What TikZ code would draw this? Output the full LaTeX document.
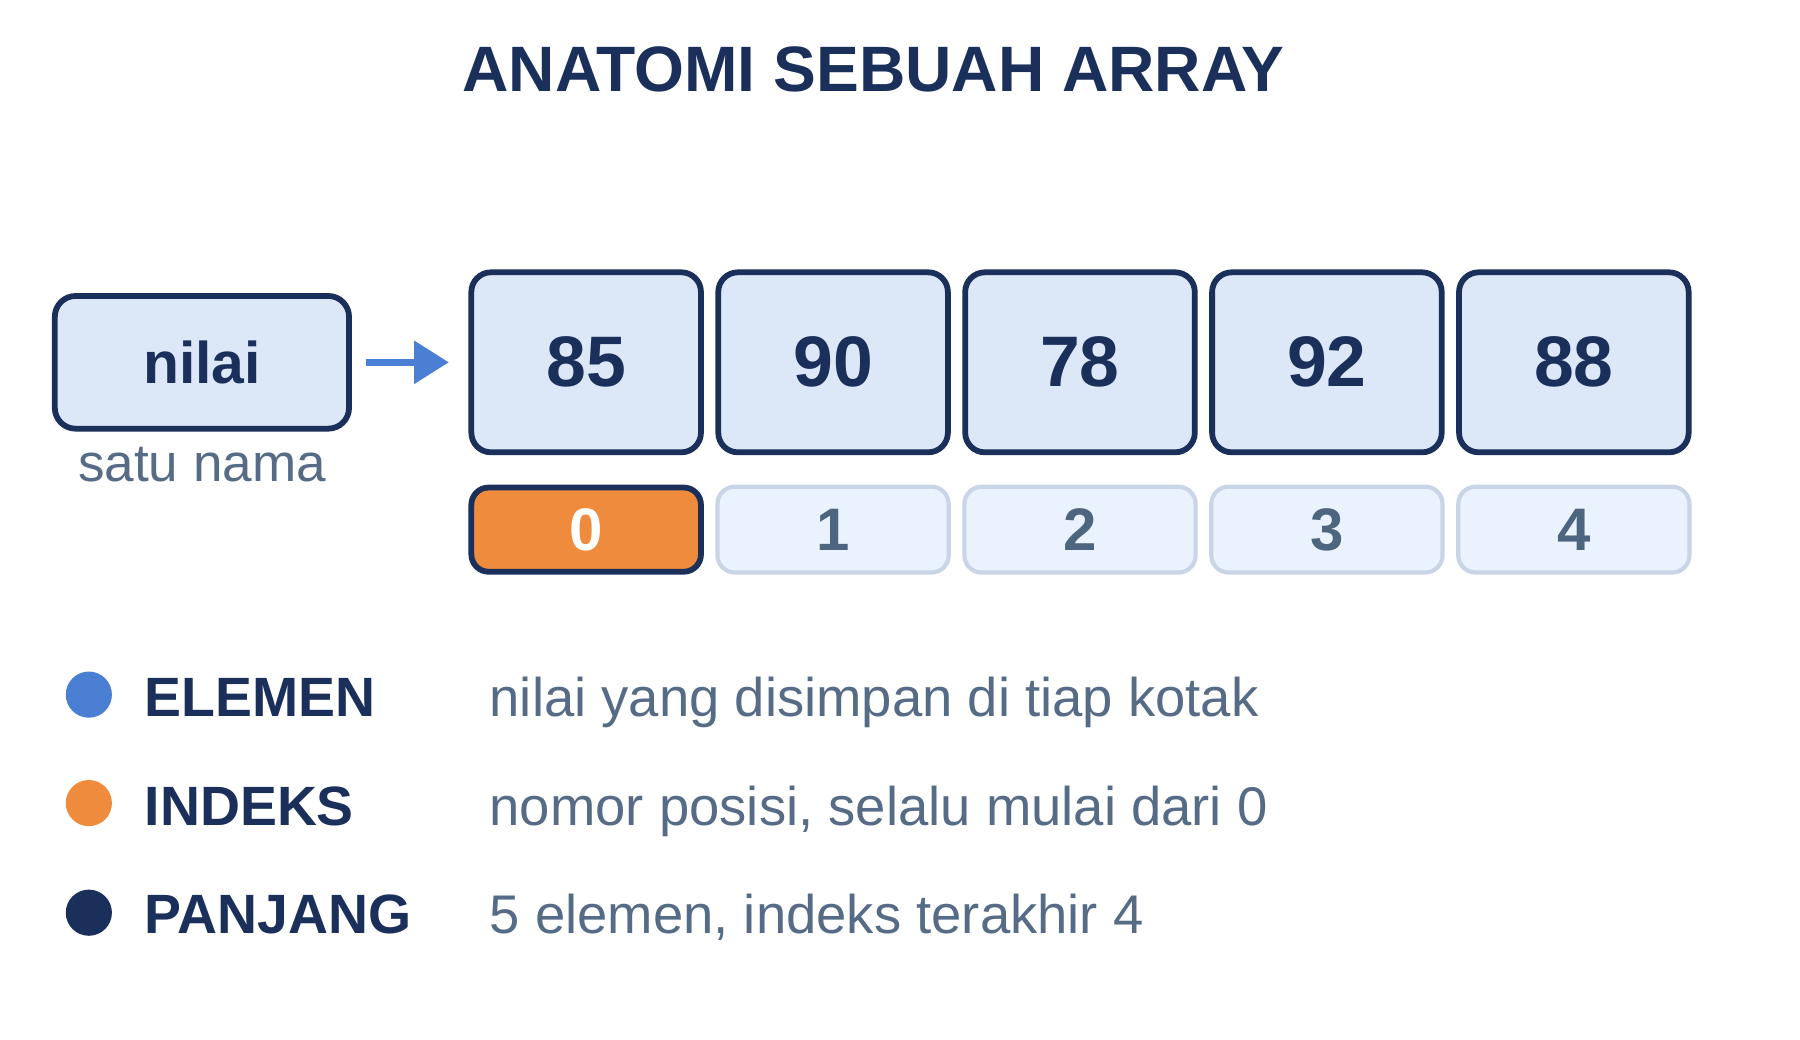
\documentclass[tikz,border=0pt]{standalone}
\usepackage{fontspec}
\setmainfont{Liberation Sans}
\usetikzlibrary{arrows.meta}
\definecolor{navy}{HTML}{1A2F5A}
\definecolor{boxfill}{HTML}{DCE8F7}
\definecolor{idxfill}{HTML}{EAF3FD}
\definecolor{idxline}{HTML}{C9D4E6}
\definecolor{idxtext}{HTML}{4E6580}
\definecolor{slate}{HTML}{566C86}
\definecolor{orangeidx}{HTML}{EE8B3D}
\definecolor{bluearr}{HTML}{4A7FD4}
\tikzset{
  valbox/.style={draw=navy, line width=2.5pt, fill=boxfill, rounded corners=8.5pt,
    minimum width=99.5pt, minimum height=78pt, inner sep=0pt, text=navy,
    font=\fontsize{31}{36}\selectfont\bfseries},
  namebox/.style={draw=navy, line width=2.5pt, fill=boxfill, rounded corners=9pt,
    minimum width=127.5pt, minimum height=57.5pt, inner sep=0pt, text=navy,
    font=\fontsize{25.5}{30}\selectfont\bfseries},
  idxbox/.style={draw=idxline, line width=1.8pt, fill=idxfill, rounded corners=7.5pt,
    minimum width=100.2pt, minimum height=37.2pt, inner sep=0pt, text=idxtext,
    font=\fontsize{26}{30}\selectfont\bfseries},
  idxzero/.style={idxbox, draw=navy, line width=2.5pt, fill=orangeidx, text=white,
    minimum width=99.5pt, minimum height=36.5pt},
  legdot/.style={circle, inner sep=0pt, minimum size=20pt},
  leglabel/.style={anchor=base west, inner sep=0pt, text=navy,
    font=\fontsize{24}{30}\selectfont\bfseries},
  legdesc/.style={anchor=base west, inner sep=0pt, text=slate,
    font=\fontsize{23.6}{30}\selectfont},
  arr/.style={draw=bluearr, line width=3pt, -{Triangle[length=15pt,width=18pt]},
    shorten <=6pt, shorten >=8.5pt}
}
\begin{document}
\begin{tikzpicture}[x=0.5pt,y=-0.5pt]
\useasboundingbox[fill=white] (0,0) rectangle (1560,901.3);
% title
\node[anchor=base, inner sep=0pt, text=navy, font=\fontsize{27.8}{34}\selectfont\bfseries]
  (title) at (757,79) {ANATOMI SEBUAH ARRAY};
% name box
\node[namebox] (nilai) at (175,314) {nilai};
\node[anchor=base, inner sep=0pt, text=slate, font=\fontsize{23}{28}\selectfont]
  (satu) at (175,417) {satu nama};
% value boxes
\node[valbox] (v0) at (508,314) {85};
\node[valbox] (v1) at (722,314) {90};
\node[valbox] (v2) at (936,314) {78};
\node[valbox] (v3) at (1150,314) {92};
\node[valbox] (v4) at (1364,314) {88};
% index boxes
\node[idxzero] (i0) at (508,459) {0};
\node[idxbox] (i1) at (722,459) {1};
\node[idxbox] (i2) at (936,459) {2};
\node[idxbox] (i3) at (1150,459) {3};
\node[idxbox] (i4) at (1364,459) {4};
% arrow
\draw[arr] (nilai.east) -- (v0.west);
% legend
\node[legdot, fill=bluearr] (d1) at (77,602) {};
\node[legdot, fill=orangeidx] (d2) at (77,696) {};
\node[legdot, fill=navy] (d3) at (77,791) {};
\node[leglabel] (l1) at (125,621) {ELEMEN};
\node[leglabel] (l2) at (125,715) {INDEKS};
\node[leglabel] (l3) at (125,809) {PANJANG};
\node[legdesc] (t1) at (424,621) {nilai yang disimpan di tiap kotak};
\node[legdesc] (t2) at (424,715) {nomor posisi, selalu mulai dari 0};
\node[legdesc] (t3) at (424,809) {5 elemen, indeks terakhir 4};
\end{tikzpicture}
\end{document}
